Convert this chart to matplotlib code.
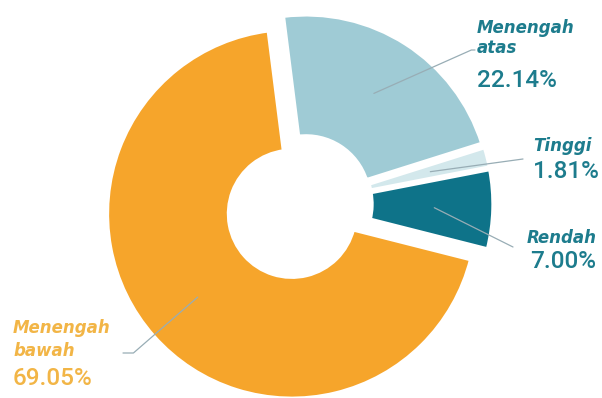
import numpy as np
from matplotlib import pyplot as plt

# data (clockwise from the top)
labels = ["Menengah\natas", "Tinggi", "Rendah", "Menengah\nbawah"]
values = [22.14, 1.81, 7.00, 69.05]
colors = ["#9fcbd5", "#d3e8ec", "#0e7389", "#f6a52b"]
text_colors = ["#1d7c8d", "#1d7c8d", "#1d7c8d", "#f2b546"]

W, H = 602, 398
PX = 185.0          # pixels per pie radius
cx, cy = 303, 204   # pie centre in image pixels (from top)

fig = plt.figure(figsize=(W / 100, H / 100), dpi=100)
ax = fig.add_axes([0, 0, 1, 1])

wedges, _ = ax.pie(values, colors=colors, startangle=97.2, counterclock=False,
                   explode=[0.03, 0.03, 0.03, 0.08],
                   wedgeprops=dict(width=0.66, edgecolor="white", linewidth=3.2))

ax.set_xlim(-cx / PX, (W - cx) / PX)
ax.set_ylim(-(H - cy) / PX, cy / PX)
ax.set_aspect("auto")
ax.axis("off")

# label blocks: name baselines, percent baseline, left x (image pixels)
name_pos = [(477, 32.7, 20), (533, 150.7, 20), (527, 243.3, 20), (13, 333, 23)]
pct_pos = [(477, 87.3), (533, 178.3), (530, 268.3), (13, 385)]
# leader line end (image px) and the angle of the slanted part
leader_end = [(475, 50), (523, 159), (513, 247), (123, 353)]
leader_style = ["angle,angleA=0,angleB=24,rad=0", "arc3,rad=0", "arc3,rad=0",
                "angle,angleA=0,angleB=41,rad=0"]


def fig_xy(x, y):
    return x / W, 1 - y / H


for i, w in enumerate(wedges):
    mid = np.deg2rad((w.theta1 + w.theta2) / 2)
    r = 0.68
    anchor = (w.center[0] + r * np.cos(mid), w.center[1] + r * np.sin(mid))
    ex, ey = leader_end[i]
    ax.annotate("", xy=anchor, xycoords="data", xytext=(ex, H - ey),
                textcoords="figure pixels",
                arrowprops=dict(arrowstyle="-", color="#98adb5", lw=0.9,
                                shrinkA=0, shrinkB=0,
                                connectionstyle=leader_style[i]))

    x, y, step = name_pos[i]
    for j, line in enumerate(labels[i].split("\n")):
        fig.text(*fig_xy(x, y + j * step), line, color=text_colors[i],
                 family="DejaVu Sans", style="italic", weight="bold",
                 fontsize=12, va="baseline", ha="left")
    px_, py_ = pct_pos[i]
    fig.text(*fig_xy(px_, py_), f"{values[i]:.2f}%", color=text_colors[i],
             family="Roboto", weight="medium", fontsize=17.5,
             va="baseline", ha="left")

fig.savefig("out.png", dpi=100)
